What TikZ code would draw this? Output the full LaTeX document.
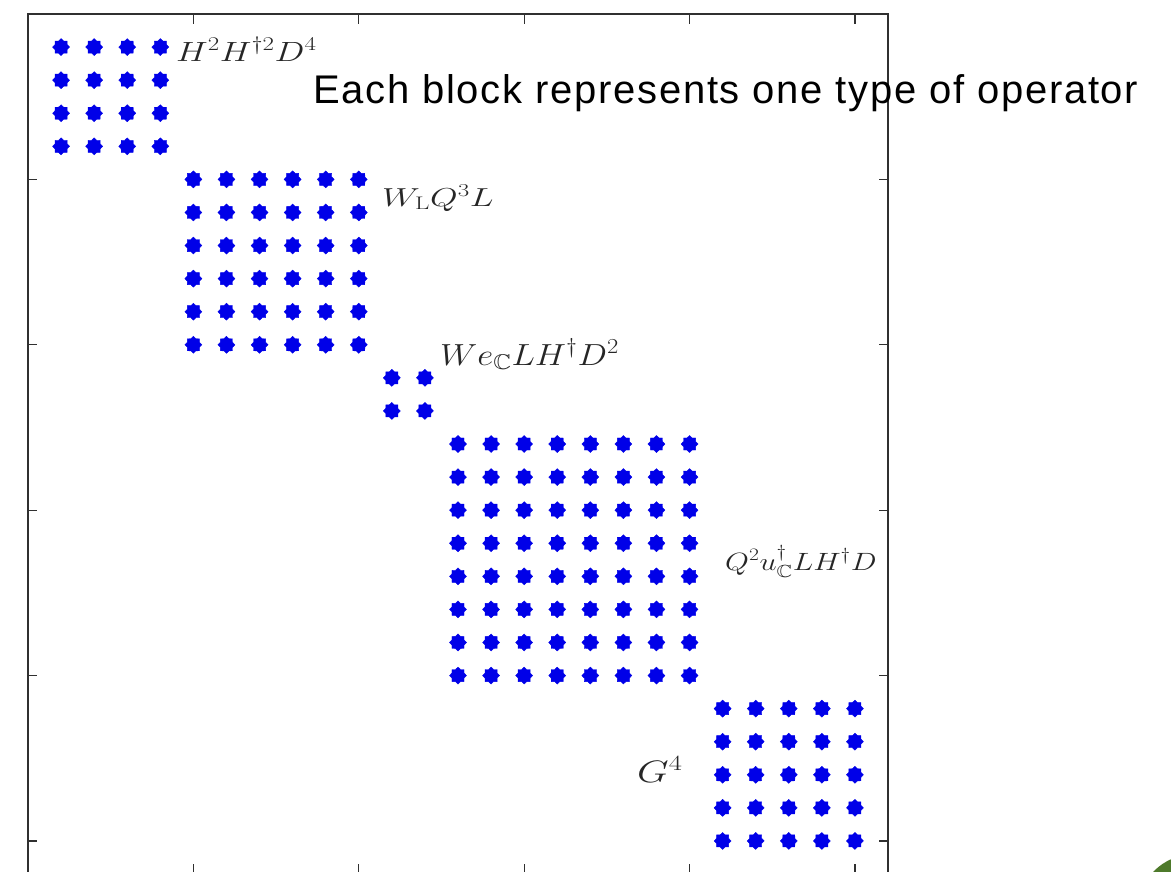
\RequirePackage{fix-cm}
\documentclass[tikz,border=0pt]{standalone}
\usepackage{amsmath,amssymb}
\usepackage{graphicx}
\usepackage{fontspec}
\setsansfont{Liberation Sans}
\usetikzlibrary{shapes.geometric,positioning}
\usepackage{xcolor}
\definecolor{dotcol}{HTML}{0000E8}
\definecolor{framecol}{HTML}{303030}
\definecolor{lblcol}{HTML}{262626}
\definecolor{leafcol}{HTML}{4E7A2B}

\begin{document}
\begin{tikzpicture}[x=1pt, y=-1pt,
  opdot/.style={star, star points=8, star point ratio=1.3, fill=dotcol,
                draw=dotcol, inner sep=0pt, minimum size=17pt},
  oplbl/.style={inner sep=0pt, anchor=base west, text=lblcol},
  note/.style={font=\sffamily\fontsize{40}{46}\selectfont\addfontfeature{LetterSpace=4.3},
               inner sep=0pt, anchor=base west},
  tck/.style={framecol, line width=1.3pt}]
  \useasboundingbox (0,0) rectangle (1171,871);
  \clip (0,0) rectangle (1171,871);
  \begin{scope}[shift={(28,14)}, x=33.077pt, y=-33.077pt]
    % frame and ticks
    \draw[framecol, line width=2pt] (0,0) rectangle (26,26);
    \foreach \k in {5,10,...,25} {
      \draw[tck] (\k,0) -- (\k,0.3);
      \draw[tck] (\k,26) -- (\k,25.7);
      \draw[tck] (0,\k) -- (0.28,\k);
      \draw[tck] (26,\k) -- (25.72,\k);
    }
    % operator blocks
    \foreach \s/\n [evaluate=\n as \e using int(\s+\n-1)] in {1/4,5/6,11/2,13/8,21/5}
      \foreach \i in {\s,...,\e}
        \foreach \j in {\s,...,\e}
          \node[opdot] (p-\i-\j) at (\i,\j) {};
  \end{scope}
  % block labels
  \node[oplbl, font=\fontsize{27.8}{33}\selectfont] (lblhh) at (176,61)
    {\scalebox{1.28}[1]{$H^2H^{\dagger 2}D^4$}};
  \node[oplbl, font=\fontsize{26}{31}\selectfont] (lblwq) at (382,206)
    {\scalebox{1.37}[1]{$W_{\rm L}Q^3L$}};
  \node[oplbl, font=\fontsize{30.5}{36}\selectfont] (lblwe) at (440,365)
    {\scalebox{1.15}[1]{$We_{\mathbb{C}}LH^\dagger D^2$}};
  \node[oplbl, font=\fontsize{25}{30}\selectfont] (lblqu) at (725,570)
    {\scalebox{1.23}[1]{$Q^2u^\dagger_{\mathbb{C}}LH^\dagger D$}};
  \node[oplbl, font=\fontsize{31}{36}\selectfont] (lblg) at (637,782)
    {\scalebox{1.32}[1]{$G^4$}};
  \node[note] (title) at (313,103) {Each block represents one type of operator};
  % corner badge
  \fill[leafcol] (1195,912) circle (58);
\end{tikzpicture}
\end{document}
